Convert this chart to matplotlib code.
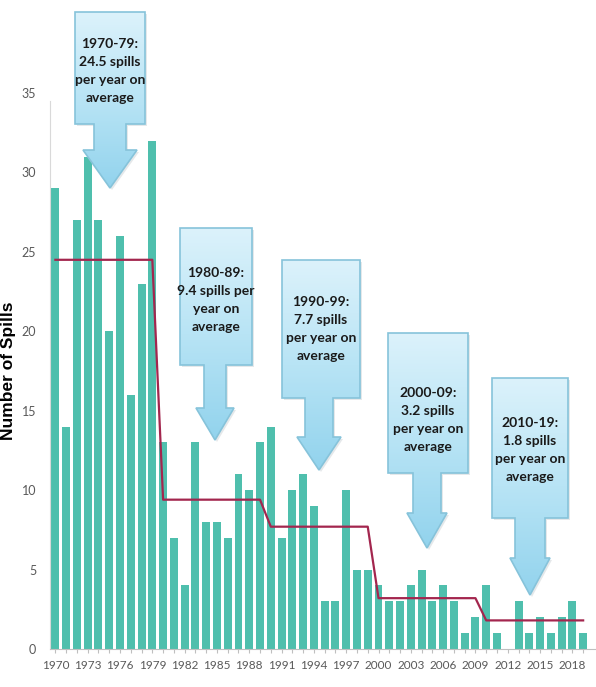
import numpy as np
import matplotlib
matplotlib.use("Agg")
import matplotlib.pyplot as plt
from matplotlib.patches import Polygon

# number of spills per year, 1970-2019
years = list(range(1970, 2020))
spills = [29, 14, 27, 31, 27, 20, 26, 16, 23, 32,
          13, 7, 4, 13, 8, 8, 7, 11, 10, 13,
          14, 7, 10, 11, 9, 3, 3, 10, 5, 5,
          4, 3, 3, 4, 5, 3, 4, 3, 1, 2,
          4, 1, 0, 3, 1, 2, 1, 2, 3, 1]

decades = ["1970-79", "1980-89", "1990-99", "2000-09", "2010-19"]
decade_avg = [24.5, 9.4, 7.7, 3.2, 1.8]
callout_text = [
    "1970-79:\n24.5 spills\nper year on\naverage",
    "1980-89:\n9.4 spills per\nyear on\naverage",
    "1990-99:\n7.7 spills\nper year on\naverage",
    "2000-09:\n3.2 spills\nper year on\naverage",
    "2010-19:\n1.8 spills\nper year on\naverage",
]

W, H = 596, 687
bar_color = "#4FBFAD"
line_color = "#A3264E"
grey = "#595959"
narrow = ["Lato", "DejaVu Sans"]

fig = plt.figure(figsize=(W / 100, H / 100), dpi=100)
ax = fig.add_axes([50 / W, 1 - 649 / H, 545 / W, (649 - 93) / H])

ax.bar(years, spills, width=0.74, color=bar_color, zorder=2)

# decade average as a step line joining year centres
avg_line = np.repeat(decade_avg, 10)
ax.plot(years, avg_line, color=line_color, lw=1.6, zorder=3)

ax.set_xlim(1969.5, 2020.1)
ax.set_ylim(0, 35)
ax.set_yticks(range(0, 36, 5))
ax.set_xticks(years)
ax.set_xticklabels([str(y) if (y - 1970) % 3 == 0 else "" for y in years])
ax.tick_params(axis="x", length=3, color="#bfbfbf", pad=5, labelsize=8.5,
               labelcolor=grey)
ax.tick_params(axis="y", length=0, pad=10, labelsize=9, labelcolor=grey)
for lab in ax.get_xticklabels() + ax.get_yticklabels():
    lab.set_family(narrow)

for s in ["top", "right"]:
    ax.spines[s].set_visible(False)
ax.spines["bottom"].set_color("#bfbfbf")
ax.spines["left"].set_color("#d9d9d9")
ax.spines["left"].set_bounds(0, 34.5)

fig.text(9 / W, 1 - 371 / H, "Number of Spills", rotation=90, ha="center",
         va="center", fontsize=12.5, fontweight="bold",
         family=["Liberation Sans", "DejaVu Sans"])

# callout boxes with down arrows, drawn in pixel coordinates on an overlay
ov = fig.add_axes([0, 0, 1, 1], zorder=5)
ov.axis("off")

# (box left, box right, box top, box bottom, shaft half-width,
#  head top, head half-width, tip y, first text line y)
shapes = [
    (75, 145, 12, 124, 16, 150, 27, 188, 40),
    (180, 252, 228, 365, 11, 408, 19, 440, 269),
    (282, 360, 260, 398, 14, 437, 22, 470, 298),
    (388, 468, 333, 473, 14, 513, 20, 548, 389),
    (492, 568, 378, 518, 15, 558, 20, 595, 419),
]
tips_x = [110, 215, 319, 427, 530]

grad = np.linspace(0, 1, 256)[:, None]
cmap = matplotlib.colors.LinearSegmentedColormap.from_list(
    "callout", ["#dcf2fb", "#b8e4f5", "#92d3ed"])

for (l, r, t, b, sw, ht, hw, tip, ty), cx, txt in zip(shapes, tips_x, callout_text):
    pts = [(l, t), (r, t), (r, b), (cx + sw, b), (cx + sw, ht), (cx + hw, ht),
           (cx, tip), (cx - hw, ht), (cx - sw, ht), (cx - sw, b), (l, b)]
    shadow = Polygon([(x + 2, y + 2) for x, y in pts], closed=True,
                     fc="#a9b6bc", ec="none", alpha=0.3, zorder=1)
    ov.add_patch(shadow)
    img = ov.imshow(grad, cmap=cmap, extent=(l, r, tip, t), aspect="auto",
                    interpolation="bilinear", zorder=2)
    clip = Polygon(pts, closed=True, fc="none", ec="none",
                   transform=ov.transData)
    img.set_clip_path(clip)
    ov.add_patch(Polygon(pts, closed=True, fc="none", ec="#86c3da", lw=1.2,
                         zorder=3))
    ov.text((l + r) / 2, ty + 31, txt, ha="center", va="center",
            fontsize=10, fontweight="bold", family=narrow,
            color="#1a1a1a", linespacing=1.6, zorder=4)

ov.set_xlim(0, W)
ov.set_ylim(H, 0)

fig.savefig("out.png", dpi=100)
